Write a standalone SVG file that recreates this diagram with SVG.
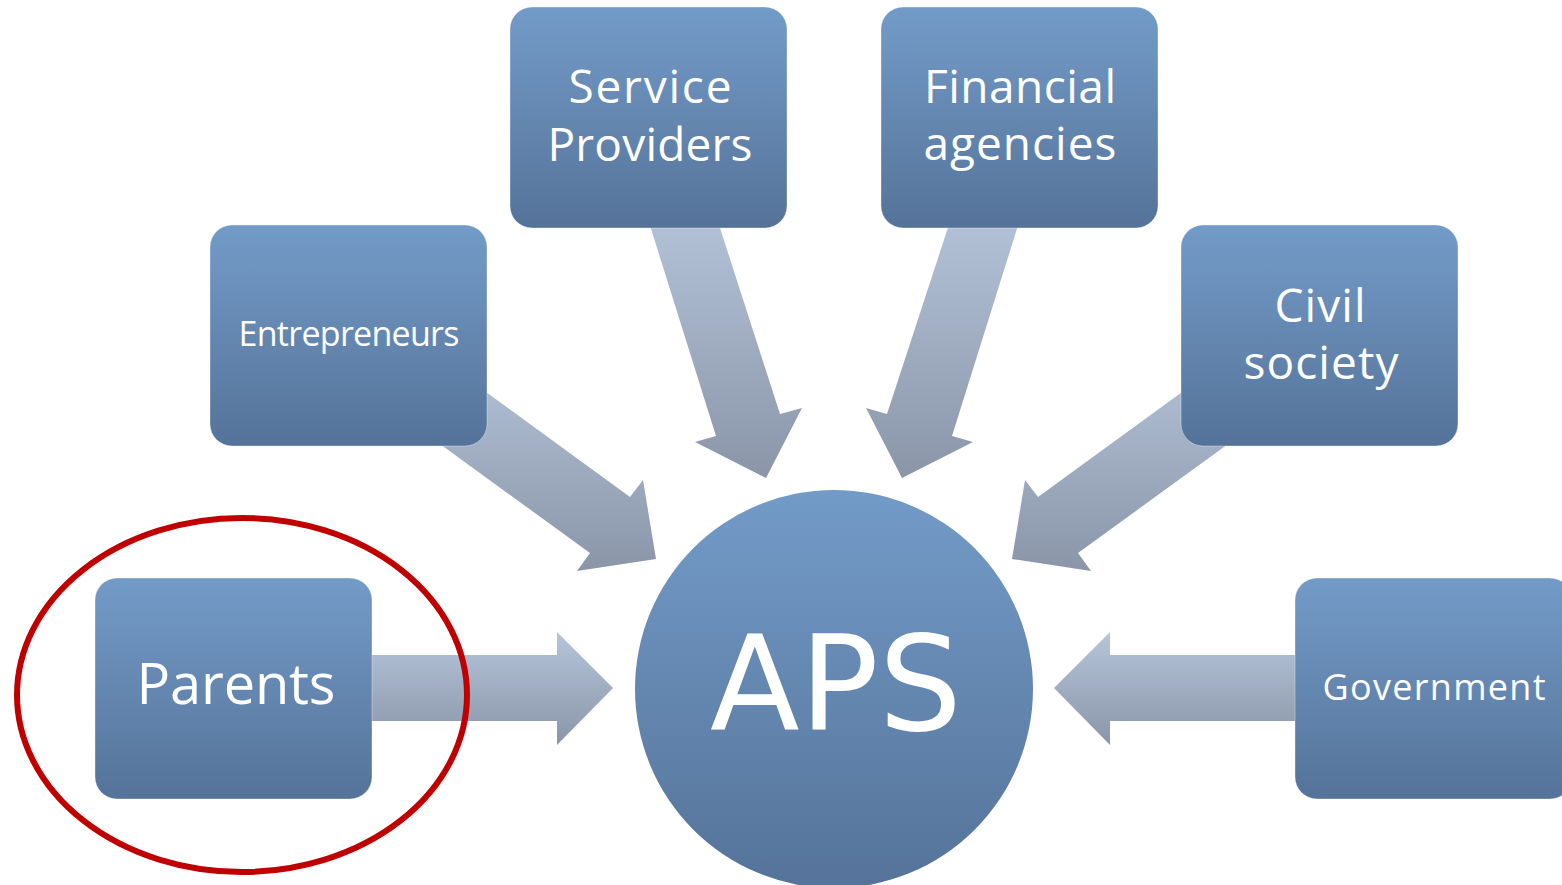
<svg xmlns="http://www.w3.org/2000/svg" width="1562" height="885" viewBox="0 0 1562 885">
  <defs>
    <linearGradient id="boxFill" x1="0" y1="0" x2="0" y2="1">
      <stop offset="0" stop-color="#739bc8"/>
      <stop offset="1" stop-color="#557399"/>
    </linearGradient>
    <linearGradient id="arrowFill" x1="0" y1="0" x2="0" y2="1">
      <stop offset="0" stop-color="#b6c5db"/>
      <stop offset="1" stop-color="#8a95a8"/>
    </linearGradient>
    <style>
      .box { fill: url(#boxFill); stroke: #ffffff; stroke-opacity: 0.35; stroke-width: 1; }
      .arrow { fill: url(#arrowFill); }
      .lbl { fill: #ffffff; font-family: "Open Sans", "Liberation Sans", sans-serif; text-anchor: middle; }
      .big { font-size: 46px; }
      .huge { font-size: 56px; }
      .small { font-size: 34px; }
      .gov { font-size: 36px; }
      .hub { fill: #ffffff; font-family: "DejaVu Sans", "Liberation Sans", sans-serif; font-size: 131px; text-anchor: middle; }
    </style>
  </defs>

  <rect width="1562" height="885" fill="#ffffff"/>

  <!-- block arrows pointing into the hub -->
  <g id="connectors">
    <!-- Service Providers -> APS -->
    <polygon class="arrow" points="642,200 711,200 780,414 802,408 766,478 695,442 716,436"/>
    <!-- Financial agencies -> APS -->
    <polygon class="arrow" points="957,200 1026,200 952,436 973,442 902,478 866,408 887,414"/>
    <!-- Entrepreneurs -> APS -->
    <polygon class="arrow" points="420,344 630,497 643,480 656,559 577,571 590,553 400,415"/>
    <!-- Civil society -> APS -->
    <polygon class="arrow" points="1248,344 1038,497 1025,480 1012,559 1091,571 1078,553 1268,415"/>
    <!-- Parents -> APS -->
    <polygon class="arrow" points="360,655 557,655 557,632 613,688 557,745 557,721 360,721"/>
    <!-- Government -> APS -->
    <polygon class="arrow" points="1310,655 1110,655 1110,632 1054,688 1110,745 1110,721 1310,721"/>
  </g>

  <g id="node-aps">
    <circle cx="834" cy="689" r="199" fill="url(#boxFill)"/>
    <text class="hub" x="836" y="730">APS</text>
  </g>

  <g id="node-service-providers">
    <rect class="box" x="510" y="7" width="277" height="221" rx="22"/>
    <text class="lbl big" x="650" y="103" textLength="163">Service</text>
    <text class="lbl big" x="650" y="161" textLength="205">Providers</text>
  </g>

  <g id="node-financial-agencies">
    <rect class="box" x="881" y="7" width="277" height="221" rx="22"/>
    <text class="lbl big" x="1020" y="103" textLength="192">Financial</text>
    <text class="lbl big" x="1020" y="160" textLength="193">agencies</text>
  </g>

  <g id="node-entrepreneurs">
    <rect class="box" x="210" y="225" width="277" height="221" rx="22"/>
    <text class="lbl small" x="349" y="346" textLength="221">Entrepreneurs</text>
  </g>

  <g id="node-civil-society">
    <rect class="box" x="1181" y="225" width="277" height="221" rx="22"/>
    <text class="lbl big" x="1320" y="322" textLength="91">Civil</text>
    <text class="lbl big" x="1321" y="379" textLength="155">society</text>
  </g>

  <g id="node-parents">
    <rect class="box" x="95" y="578" width="277" height="221" rx="22"/>
    <text class="lbl huge" x="236" y="704" textLength="199">Parents</text>
  </g>

  <g id="node-government">
    <rect class="box" x="1295" y="578" width="277" height="221" rx="22"/>
    <text class="lbl gov" x="1434" y="700" textLength="223">Government</text>
  </g>

  <!-- highlight ring around Parents -->
  <ellipse id="highlight" cx="242" cy="695" rx="225" ry="177" fill="none" stroke="#c00000" stroke-width="6"/>
</svg>
